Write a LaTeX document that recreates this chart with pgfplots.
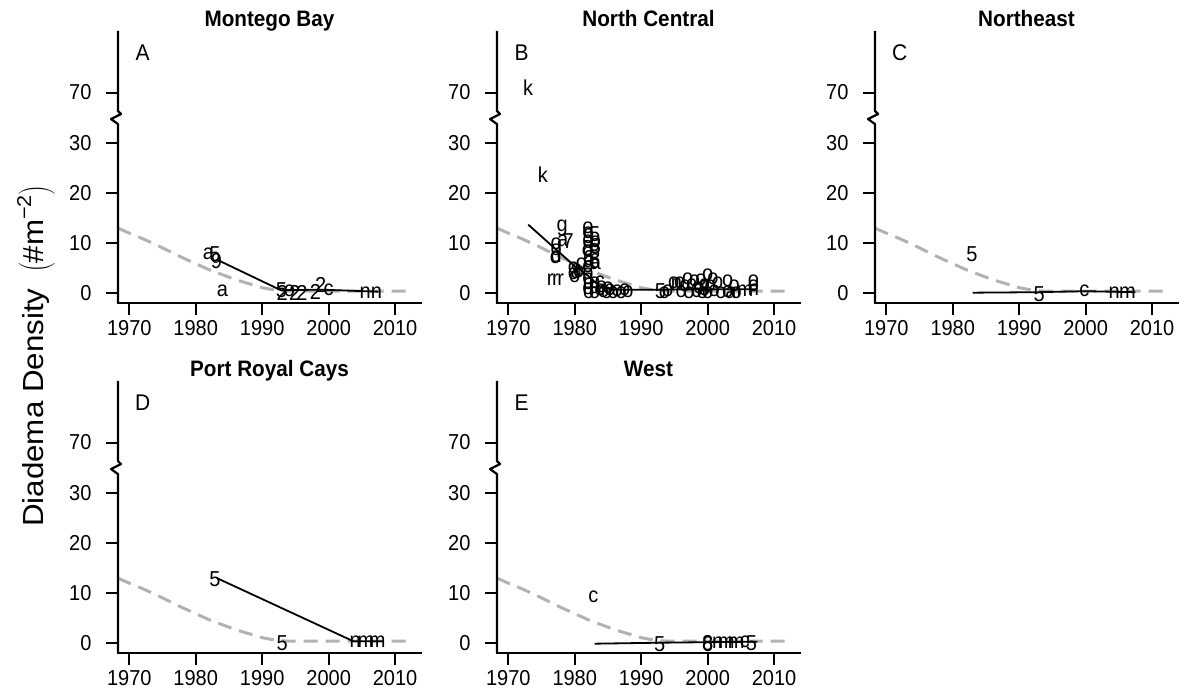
\documentclass[border=0pt]{standalone}
\usepackage{fontspec}
\setmainfont{Liberation Sans}
\usepackage{pgfplots}
\usepackage{pgfplotstable}
\pgfplotsset{compat=1.18}

\definecolor{curvegray}{RGB}{178,178,178}

% common dashed reference curve
\pgfplotstableread{
x y
1968.3 12.9
1970 11.9
1972 10.8
1974 9.6
1976 8.3
1978 7.0
1980 5.8
1982 4.6
1984 3.6
1986 2.6
1988 1.8
1990 1.0
1992 0.5
1994 0.3
2000 0.3
2012 0.3
}\curvetab

\pgfplotsset{
  panel/.style={
    width=303pt, height=272pt, scale only axis, anchor=south west, clip=false,
    xmin=1968.3, xmax=2013.9, ymin=-2.06, ymax=52.3,
    axis x line*=bottom, axis y line*=left,
    x axis line style={-, line width=2.2pt, line cap=rect},
    y axis line style={draw=none},
    xtick={1970,1980,1990,2000,2010},
    ytick={0,10,20,30,40}, yticklabels={0,10,20,30,70},
    tick align=outside, major tick length=12pt,
    every tick/.style={black, line width=2pt},
    tick label style={font=\fontsize{20}{24}\selectfont, yscale=1.08},
    xticklabel style={yshift=-1.5pt},
    yticklabel style={xshift=-11pt},
    /pgf/number format/assume math mode=true,
    /pgf/number format/1000 sep={},
    title style={font=\bfseries\fontsize{20.7}{24}\selectfont, at={(0.5,1)}, anchor=base, yshift=-1.7pt, inner sep=0pt, yscale=1.08},
    y filter/.expression={y>35 ? y-30 : y},
  },
  letters/.style={draw=none, nodes near coords, point meta=explicit symbolic,
    nodes near coords align={center},
    every node near coord/.append style={font=\fontsize{20}{22}\selectfont, inner sep=0pt, text=black, yscale=1.08}},
  fit/.style={black, line width=1.8pt},
  curvesty/.style={curvegray, line width=3pt, dash pattern=on 14pt off 8pt},
}

\newcommand{\ybreak}{%
  \draw[line width=2.2pt, line join=round] (rel axis cs:0,1) -- (axis cs:1968.3,36.3)
     -- ++(3pt,-3pt) -- ++(-10pt,-5pt) -- ++(7pt,-5pt) -- (rel axis cs:0,0);}
\newcommand{\plabel}[1]{\node[font=\fontsize{21}{24}\selectfont, yscale=1.08] at (axis cs:1972,47.9) {#1};}

\begin{document}
\begin{tikzpicture}
\useasboundingbox (0,0) rectangle (1184pt,691pt);

% ---------- A: Montego Bay ----------
\begin{axis}[panel, at={(118pt,388pt)}, title={Montego Bay}]
\addplot[curvesty] table {\curvetab};
\addplot[fit] coordinates {(1983.2,6.6) (1992.8,0.5) (1999,0.6) (2007.5,0.2)};
\addplot[letters] table[meta=l] {
x y l
1981.9 7.7 a
1982.9 7.6 5
1983.1 6.3 9
1984.0 0.3 a
1992.9 0.6 5
1993.0 0.0 2
1994.1 0.4 o
1994.9 0.0 2
1996.0 0.0 2
1998.0 0.2 2
1998.8 1.6 2
2000.0 0.5 c
2005.5 0.1 n
2007.2 0.1 n
};
\ybreak
\plabel{A}
\end{axis}

% ---------- B: North Central ----------
\begin{axis}[panel, at={(497pt,388pt)}, title={North Central}]
\addplot[curvesty] table {\curvetab};
\addplot[fit] coordinates {(1973,13.6) (1980,5.3) (1982,3.4) (1984,1.0) (1986,0.6) (1993,0.6) (2000,0.7) (2007.5,0.7)};
\addplot[letters] table[meta=l] {
x y l
1973.0 71 k
1975.2 23.6 k
1978.1 13.0 g
1977.2 9.8 o
1978.2 10.4 a
1979.0 10.3 7
1977.2 8.6 o
1977.2 7.5 d
1977.1 6.9 o
1976.3 2.6 r
1977.1 2.6 r
1977.9 2.6 r
1979.8 4.9 o
1979.8 3.8 o
1980.6 4.2 o
1980.0 3.2 o
1981.0 5.8 o
1980.2 4.3 8
1982.0 13.0 o
1982.0 12.0 o
1982.1 11.3 9
1982.0 10.3 o
1982.0 8.9 8
1981.9 8.3 o
1982.1 7.0 6
1982.2 6.1 a
1982.0 5.2 o
1982.0 3.8 o
1982.0 2.7 o
1982.1 1.7 o
1982.0 0.8 o
1982.1 0.0 o
1983.0 11.6 5
1983.1 10.2 o
1983.1 9.3 8
1983.0 8.3 8
1983.0 6.4 6
1983.1 5.8 a
1983.0 2.0 o
1983.0 1.0 o
1983.0 0.0 o
1983.8 2.2 c
1983.8 0.6 o
1984.3 0.2 o
1984.8 0.0 o
1985.3 0.5 o
1985.8 0.0 o
1986.4 0.3 o
1987.0 0.0 o
1987.5 0.6 o
1988.0 0.1 o
1984.0 1.2 o
1985.0 1.0 o
1992.9 0.4 5
1993.5 0.0 o
1994.0 0.4 o
1994.9 1.9 o
1995.3 1.7 n
1995.8 2.0 o
1996.0 0.2 o
1996.6 1.3 o
1997.0 2.8 o
1997.2 0.0 o
1997.6 1.5 o
1998.0 2.3 o
1998.3 0.6 6
1998.7 1.0 o
1999.0 2.6 o
1999.2 0.0 o
1999.5 1.6 o
1999.5 0.9 8
2000.0 3.5 o
2000.0 0.0 o
2000.4 1.3 o
2000.8 2.8 o
2001.0 0.4 o
2001.5 1.9 o
2002.0 0.0 o
2003.0 2.4 o
2003.0 0.2 o
2003.5 0.0 a
2004.0 1.3 o
2004.3 0.0 o
2005.6 0.4 m
2006.9 0.5 n
2006.9 2.4 o
2006.9 1.3 o
};
\ybreak
\plabel{B}
\end{axis}

% ---------- C: Northeast ----------
\begin{axis}[panel, at={(875pt,388pt)}, title={Northeast}]
\addplot[curvesty] table {\curvetab};
\addplot[fit] coordinates {(1983,0) (1992.7,0.1) (2000,0.3) (2007.5,0.1)};
\addplot[letters] table[meta=l] {
x y l
1982.9 7.6 5
1993.0 -0.3 5
1999.8 0.3 c
2004.3 0.1 n
2006.3 0.1 m
};
\ybreak
\plabel{C}
\end{axis}

% ---------- D: Port Royal Cays ----------
\begin{axis}[panel, at={(118pt,38pt)}, title={Port Royal Cays}]
\addplot[curvesty] table {\curvetab};
\addplot[fit] coordinates {(1983.2,12.9) (2003.7,0.3) (2008.2,0.3)};
\addplot[letters] table[meta=l] {
x y l
1982.9 12.6 5
1993.0 -0.1 5
2004.0 0.2 n
2005.6 0.2 m
2007.3 0.2 m
};
\ybreak
\plabel{D}
\end{axis}

% ---------- E: West ----------
\begin{axis}[panel, at={(497pt,38pt)}, title={West}]
\addplot[curvesty] table {\curvetab};
\addplot[fit] coordinates {(1983,-0.2) (1993,0) (2000,0.1) (2007.5,0.2)};
\addplot[letters] table[meta=l] {
x y l
1982.8 9.1 c
1992.8 -0.3 5
2000.0 0.0 8
2000.0 -0.3 6
2001.5 0.1 n
2002.8 0.1 m
2004.3 0.1 m
2005.6 0.1 c
2006.6 0.0 5
};
\ybreak
\plabel{E}
\end{axis}

% y-axis label
\node[rotate=90, font=\fontsize{29}{32}\selectfont] at (36pt,335pt)
  {\scalebox{1.08}[1]{Diadema Density\enspace$\left(\vphantom{\hbox{M}^{2}}\hbox{\#m}^{\hbox{\fontsize{20}{20}\selectfont −2}}\right)$}};
\end{tikzpicture}
\end{document}
